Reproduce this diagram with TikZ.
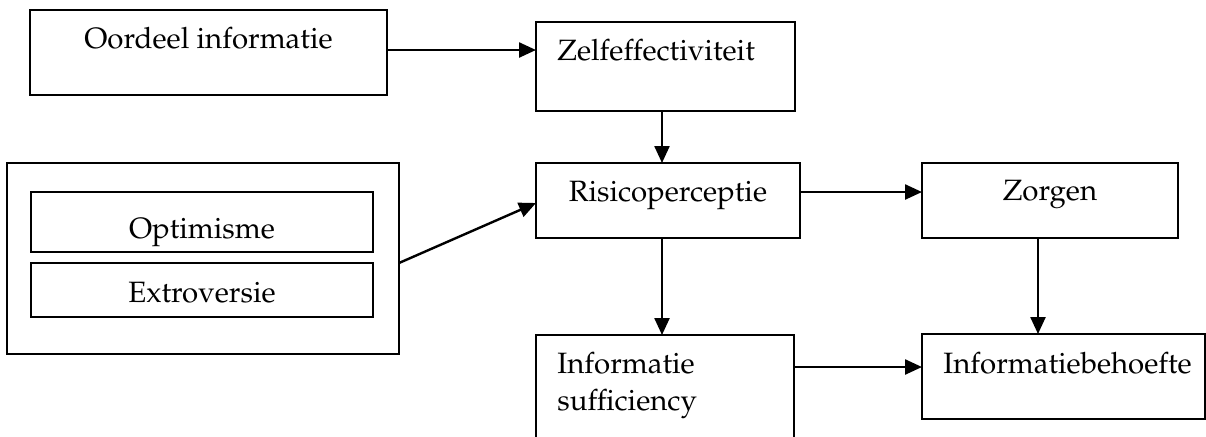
\documentclass[tikz,border=0pt]{standalone}
\usepackage[T1]{fontenc}
\usepackage{mathpazo}
\usetikzlibrary{arrows.meta}
\tikzset{
  box/.style={draw=black, line width=0.75pt, rectangle, inner sep=0pt, outer sep=0pt},
  lbl/.style={anchor=base, inner sep=0pt, font=\fontsize{14.7}{17}\selectfont},
  lbll/.style={anchor=base west, inner sep=0pt, font=\fontsize{14.7}{17}\selectfont},
  arr/.style={draw=black, line width=1.2pt, -{Triangle[length=8.5pt,width=7.5pt]}}
}
\begin{document}
\begin{tikzpicture}[x=0.5pt,y=-0.5pt]
\useasboundingbox (0,0) rectangle (1206,436);
\clip (0,0) rectangle (1206,436);
% boxes
\node[box, minimum width=178.5pt, minimum height=42.5pt] (oord) at (208.5,52.5) {};
\node[box, minimum width=129.5pt, minimum height=44.5pt] (zelf) at (665.5,66.5) {};
\node[box, minimum width=132pt, minimum height=37.5pt] (risico) at (668,200.5) {};
\node[box, minimum width=128pt, minimum height=37.5pt] (zorgen) at (1050,200.5) {};
\node[box, minimum width=196pt, minimum height=95.5pt] (outer) at (203,258.5) {};
\node[box, minimum width=171pt, minimum height=30pt] (opt) at (202,222) {};
\node[box, minimum width=171pt, minimum height=27pt] (extro) at (202,290) {};
\node[box, minimum width=129pt, minimum height=62.5pt] (suff) at (665,397.5) {};
\node[box, minimum width=141.5pt, minimum height=42.5pt] (behoefte) at (1063.5,376.5) {};
% texts
\node[lbl] (toord) at (208.5,48) {Oordeel informatie};
\node[lbll] (tzelf) at (557,60) {Zelfeffectiviteit};
\node[lbl] (trisico) at (668,201) {Risicoperceptie};
\node[lbl] (tzorgen) at (1050,200) {Zorgen};
\node[lbl] (topt) at (202,238) {Optimisme};
\node[lbl] (textro) at (202,302) {Extroversie};
\node[lbll] (tsuff1) at (557,373) {Informatie};
\node[lbll] (tsuff2) at (557,410) {sufficiency};
\node[lbll] (tbeh) at (943,373) {Informatiebehoefte};
% arrows
\draw[arr] ([yshift=1.25pt]oord.east) -- ([yshift=1.25pt]oord.east -| zelf.west);
\draw[arr] ([xshift=-1.75pt]zelf.south) -- ([xshift=-1.75pt]zelf.south |- risico.north);
\draw[arr] ([yshift=-2.25pt]outer.east) -- ([yshift=-1.25pt]risico.west);
\draw[arr] ([yshift=4.25pt]risico.east) -- ([yshift=4.25pt]risico.east -| zorgen.west);
\draw[arr] ([xshift=-3pt]risico.south) -- ([xshift=-3pt]risico.south |- suff.north);
\draw[arr] ([xshift=-6pt]zorgen.south) -- ([xshift=-6pt]zorgen.south |- behoefte.north);
\draw[arr] ([yshift=15.25pt]suff.east) -- ([yshift=15.25pt]suff.east -| behoefte.west);
\end{tikzpicture}
\end{document}
